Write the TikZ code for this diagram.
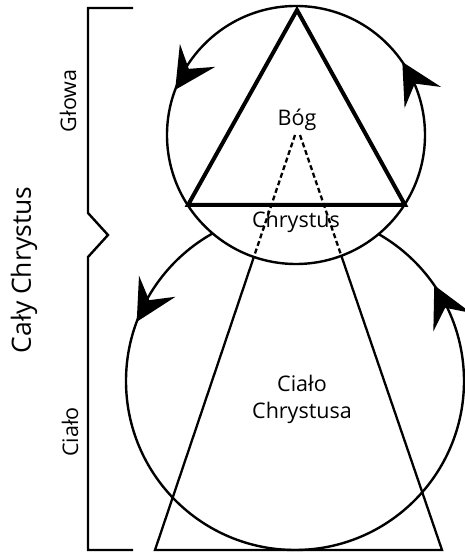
\documentclass[tikz,border=0pt]{standalone}
\usepackage{fontspec}
\setmainfont{Open Sans}
\usetikzlibrary{arrows.meta,calc}
\begin{document}
\begin{tikzpicture}[x=1pt,y=1pt,
  ring/.style={line width=2.4pt},
  tri/.style={line width=4pt, line join=miter},
  beam/.style={line width=2.3pt},
  dashbeam/.style={line width=2.3pt, dash pattern=on 5pt off 3pt},
  bracket/.style={line width=2.4pt, line join=miter},
  lbl/.style={font=\fontsize{21.5}{27}\selectfont, inner sep=0pt},
  biglbl/.style={font=\fontsize{26.5}{31}\selectfont, inner sep=0pt},
  flow/.style={line width=2pt, -{Stealth[length=41pt,width=42pt,inset=16pt]}}
]
\useasboundingbox (0,0) rectangle (465,552);
\coordinate (cu) at (296,417);
\coordinate (cl) at (295,171);
% lower circle
\draw[ring] (cl) circle (169);
% trapezoid (body)
\coordinate (bl) at (155,2);
\coordinate (br) at (442,2);
\coordinate (tl) at (295,417);
\coordinate (tr) at (300,417);
\draw[beam] (tl) -- (bl) -- (br) -- (tr) -- cycle;
% upper circle
\draw[ring, fill=white] (cu) circle (129);
\begin{scope}
  \clip (cu) circle (129);
  \draw[dashbeam] (tl) -- (bl);
  \draw[dashbeam] (tr) -- (br);
\end{scope}
% triangle
\coordinate (ta) at (297,542);
\coordinate (tb) at (188,347);
\coordinate (tc) at (405,347);
\draw[tri] (ta) -- (tb) -- (tc) -- cycle;
% arrows
\coordinate (aul) at ($(cu)+(159.5:129)$);
\coordinate (aur) at ($(cu)+(34.5:129)$);
\coordinate (all) at ($(cl)+(159.5:169)$);
\coordinate (alr) at ($(cl)+(34.5:169)$);
\draw[flow] ($(aul)+(57:20)$) -- (aul);
\draw[flow] ($(aur)+(300:20)$) -- (aur);
\draw[flow] ($(all)+(60:20)$) -- (all);
\draw[flow] ($(alr)+(296:20)$) -- (alr);
% bracket
\coordinate (k1) at (133,544);
\coordinate (k2) at (88,544);
\coordinate (k3) at (88,339);
\coordinate (k4) at (108,317);
\coordinate (k5) at (88,295);
\coordinate (k6) at (88,2);
\coordinate (k7) at (133,2);
\draw[bracket] (k1) -- (k2) -- (k3) -- (k4) -- (k5) -- (k6) -- (k7);
% labels
\node[lbl] (bog) at (297,432) {Bóg};
\node[lbl] (chr) at (296,330) {Chrystus};
\node[lbl, align=center] (cc) at (302,153) {Ciało\\Chrystusa};
\node[lbl, rotate=90] (glowa) at (68,451) {Głowa};
\node[lbl, rotate=90] (cialo) at (70,120) {Ciało};
\node[biglbl, rotate=90] (caly) at (24,282) {Cały Chrystus};
\end{tikzpicture}
\end{document}
